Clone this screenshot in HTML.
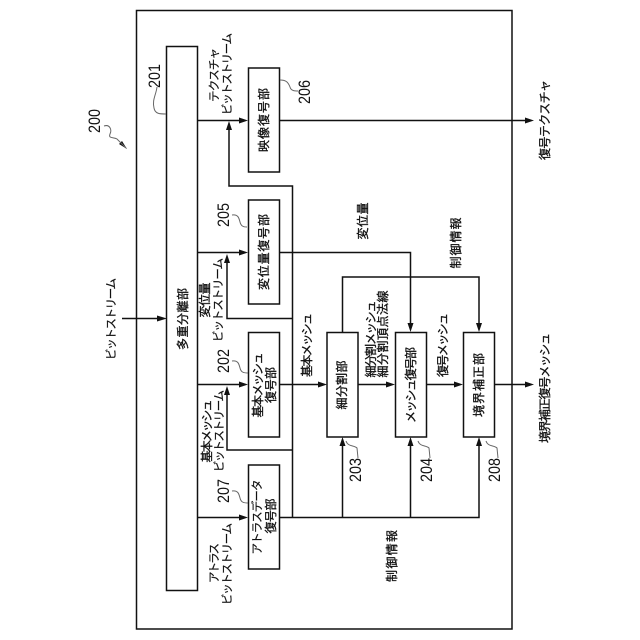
<!DOCTYPE html>
<html><head><meta charset="utf-8">
<style>
html,body{margin:0;padding:0;background:#fff;width:640px;height:640px;overflow:hidden}
svg{display:block}
text{font-family:"Liberation Sans","Noto Sans CJK JP",sans-serif;font-size:11.5px;fill:#111;stroke:#111;stroke-width:.2;text-anchor:middle;dominant-baseline:central}
.n{font-size:16.5px;stroke-width:0}
.b{font-size:12px;stroke-width:.3}
</style></head><body>
<svg width="640" height="640" viewBox="0 0 640 640" xmlns="http://www.w3.org/2000/svg">
<g fill="none" stroke="#111" stroke-width="1.5">
<rect x="136.5" y="10.5" width="375.5" height="618.5"/>
<rect x="166.5" y="46.5" width="31" height="544"/>
<rect x="248.5" y="68" width="31" height="104"/>
<rect x="248.5" y="200" width="31" height="104"/>
<rect x="248.5" y="332.5" width="31" height="104.5"/>
<rect x="248.5" y="465" width="31" height="104"/>
<rect x="327" y="332.5" width="31" height="104.5"/>
<rect x="395.5" y="332.5" width="31" height="104.5"/>
<rect x="463.5" y="332.5" width="31" height="104.5"/>
<path d="M122 318.5H160"/>
<path d="M197.5 120.5H241M279.5 120.5H527"/>
<path d="M197.5 252.5H241M279.5 252.5H410.5V325"/>
<path d="M197.5 384.5H241M279.5 384.5H320M358 384.5H388M427 384.5H456M495 384.5H527"/>
<path d="M197.5 517.5H241M279.5 517.5H479V444M342.5 517.5V444M410.5 517.5V444"/>
<path d="M292.5 517.5V186H229V129M292.5 318.5H227V261M292.5 450H227V393"/>
<path d="M342.5 332.5V277H479V325"/>
</g>
<g fill="#111">
<polygon points="167,318.5 157,315.5 157,321.5"/>
<polygon points="248,120.5 239,117.5 239,123.5"/>
<polygon points="248,252.5 239,249.5 239,255.5"/>
<polygon points="248,384.5 239,381.5 239,387.5"/>
<polygon points="248,517.5 239,514.5 239,520.5"/>
<polygon points="534,120.5 525,117.5 525,123.5"/>
<polygon points="534,384.5 525,381.5 525,387.5"/>
<polygon points="327,384.5 318,381.5 318,387.5"/>
<polygon points="395,384.5 386,381.5 386,387.5"/>
<polygon points="463,384.5 454,381.5 454,387.5"/>
<polygon points="229,121 226,130 232,130"/>
<polygon points="227,254 224,263 230,263"/>
<polygon points="227,386 224,395 230,395"/>
<polygon points="410.5,332 407.5,323 413.5,323"/>
<polygon points="479,332 476,323 482,323"/>
<polygon points="342.5,437 339.5,446 345.5,446"/>
<polygon points="410.5,437 407.5,446 413.5,446"/>
<polygon points="479,437 476,446 482,446"/>
<polygon points="127,149 119,144 122,141"/>
</g>
<g fill="none" stroke="#666" stroke-width="1">
<path d="M104 126C110 124 112 130 110 134C108 139 114 137 117 139L126 148"/>
<path d="M157 87C156 95 152 100 154 108C155 114 160 114 166 114"/>
<path d="M280 80C286 80 288 82 290 87C291 91 295 91 298 91"/>
<path d="M232 215C238 214 239 218 240 222C241 226 243 227 247 227"/>
<path d="M232 361C238 360 239 364 240 368C241 372 243 373 248 373"/>
<path d="M232 491C238 490 239 494 240 498C241 502 243 503 248 503"/>
<path d="M346 441C348 447 354 445 357 448L358 458"/>
<path d="M418 441C420 447 426 445 429 448L430 458"/>
<path d="M486 441C488 447 494 445 497 448L498 458"/>
</g>
<g>
<text class="n" transform="translate(95,121) rotate(-90)" textLength="24" lengthAdjust="spacingAndGlyphs">200</text>
<text class="n" transform="translate(155,76) rotate(-90)" textLength="24" lengthAdjust="spacingAndGlyphs">201</text>
<text class="n" transform="translate(305,92) rotate(-90)" textLength="24" lengthAdjust="spacingAndGlyphs">206</text>
<text class="n" transform="translate(224,215) rotate(-90)" textLength="24" lengthAdjust="spacingAndGlyphs">205</text>
<text class="n" transform="translate(224,361) rotate(-90)" textLength="24" lengthAdjust="spacingAndGlyphs">202</text>
<text class="n" transform="translate(224,491) rotate(-90)" textLength="24" lengthAdjust="spacingAndGlyphs">207</text>
<text class="n" transform="translate(356,470) rotate(-90)" textLength="24" lengthAdjust="spacingAndGlyphs">203</text>
<text class="n" transform="translate(427,470) rotate(-90)" textLength="24" lengthAdjust="spacingAndGlyphs">204</text>
<text class="n" transform="translate(495,470) rotate(-90)" textLength="24" lengthAdjust="spacingAndGlyphs">208</text>

<text transform="translate(112,319) rotate(-90)" textLength="82">ビットストリーム</text>
<text class="b" transform="translate(183,319) rotate(-90)" textLength="62">多重分離部</text>
<text transform="translate(215,75) rotate(-90)" textLength="54">テクスチャ</text>
<text transform="translate(228,74) rotate(-90)" textLength="82">ビットストリーム</text>
<text class="b" transform="translate(264,120) rotate(-90)" textLength="64">映像復号部</text>
<text class="b" transform="translate(264,252) rotate(-90)" textLength="76">変位量復号部</text>
<text class="b" transform="translate(205,300) rotate(-90)" textLength="35">変位量</text>
<text transform="translate(219,300) rotate(-90)" textLength="84">ビットストリーム</text>
<text class="b" transform="translate(207,431) rotate(-90)" textLength="63">基本メッシュ</text>
<text transform="translate(220,431) rotate(-90)" textLength="82">ビットストリーム</text>
<text class="b" transform="translate(258,385) rotate(-90)" textLength="65">基本メッシュ</text>
<text class="b" transform="translate(271,385) rotate(-90)" textLength="36">復号部</text>
<text transform="translate(258,517) rotate(-90)" textLength="75">アトラスデータ</text>
<text class="b" transform="translate(271,516) rotate(-90)" textLength="35">復号部</text>
<text transform="translate(215,563) rotate(-90)" textLength="40">アトラス</text>
<text transform="translate(228,564) rotate(-90)" textLength="82">ビットストリーム</text>
<text class="b" transform="translate(307,345) rotate(-90)" textLength="64">基本メッシュ</text>
<text class="b" transform="translate(342,385) rotate(-90)" textLength="49">細分割部</text>
<text class="b" transform="translate(371,339) rotate(-90)" textLength="77">細分割メッシュ</text>
<text class="b" transform="translate(383,334) rotate(-90)" textLength="87">細分割頂点法線</text>
<text class="b" transform="translate(411,385) rotate(-90)" textLength="76">メッシュ復号部</text>
<text class="b" transform="translate(443,345) rotate(-90)" textLength="64">復号メッシュ</text>
<text class="b" transform="translate(479,385) rotate(-90)" textLength="64">境界補正部</text>
<text class="b" transform="translate(363,221) rotate(-90)" textLength="37">変位量</text>
<text class="b" transform="translate(456,243) rotate(-90)" textLength="51">制御情報</text>
<text class="b" transform="translate(392,556) rotate(-90)" textLength="52">制御情報</text>
<text class="b" transform="translate(545,120) rotate(-90)" textLength="80">復号テクスチャ</text>
<text class="b" transform="translate(545,388) rotate(-90)" textLength="110">境界補正復号メッシュ</text>
</g>
</svg>
</body></html>
